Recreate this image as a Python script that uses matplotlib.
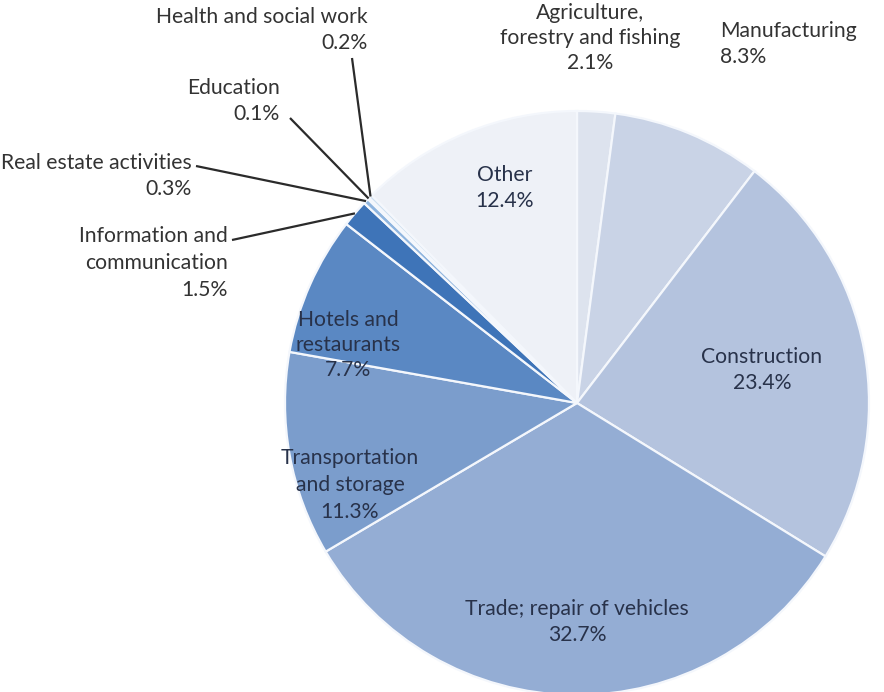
import numpy as np
import matplotlib.pyplot as plt

plt.rcParams['font.family'] = ['Lato', 'DejaVu Sans']

sectors = ["Agriculture,\nforestry and fishing", "Manufacturing", "Construction",
           "Trade; repair of vehicles", "Transportation\nand storage",
           "Hotels and\nrestaurants", "Information and\ncommunication",
           "Real estate activities", "Education", "Health and social work", "Other"]
shares = [2.1, 8.3, 23.4, 32.7, 11.3, 7.7, 1.5, 0.3, 0.1, 0.2, 12.4]
colors = ["#dde3ee", "#c9d3e6", "#b4c3de", "#94add4", "#7b9dcc", "#5a88c3",
          "#3e74b8", "#8fb5df", "#b3cfea", "#cfe0f0", "#eef1f7"]

W, H = 884, 692
cx, cy, r = 577, H - 403, 292

fig = plt.figure(figsize=(W / 100, H / 100), dpi=100)
ax = fig.add_axes([0, 0, 1, 1])
wedges, _ = ax.pie(shares, colors=colors, startangle=90, counterclock=False,
                   radius=r, center=(cx, cy),
                   wedgeprops=dict(edgecolor="#f4f7fc", linewidth=1.6))
ax.set_xlim(0, W)
ax.set_ylim(0, H)
ax.set_aspect("equal")
ax.axis("off")


def label(i):
    return f"{sectors[i]}\n{shares[i]:.1f}%"


def edge_point(i, frac=1.0):
    w = wedges[i]
    a = np.deg2rad((w.theta1 + w.theta2) / 2)
    return cx + r * frac * np.cos(a), cy + r * frac * np.sin(a)


inner = "#28324a"
outer = "#333333"
fs = 15.2
ls = 1.42

# labels inside the larger slices (x, y given from the top edge)
inside = {10: (505, 188), 2: (762, 370), 5: (348, 345), 4: (350, 485), 3: (577, 622)}
for i, (x, y) in inside.items():
    ax.text(x, H - y, label(i), ha="center", va="center", color=inner,
            fontsize=fs, linespacing=1.3 if i == 5 else ls)

# labels above the pie
ax.text(590, H - 38, label(0), ha="center", va="center", color=outer,
        fontsize=fs, linespacing=1.3)
ax.text(720, H - 44, label(1), ha="left", va="center", color=outer,
        fontsize=fs, linespacing=ls, multialignment="left")

# small slices on the left, with leader lines
callouts = {
    9: ((368, 30), (352, 58)),
    8: ((280, 101), (290, 118)),
    7: ((192, 176), (196, 166)),
    6: ((228, 263), (232, 240)),
}
for i, ((tx, ty), (lx, ly)) in callouts.items():
    ax.text(tx, H - ty, label(i), ha="right", va="center", color=outer,
            fontsize=fs, linespacing=ls, multialignment="right")
    ex, ey = edge_point(i, 1.0)
    ax.plot([lx, ex], [H - ly, ey], color="#2b2b2b", lw=1.6, solid_capstyle="butt")

fig.savefig("out.png", dpi=100)
